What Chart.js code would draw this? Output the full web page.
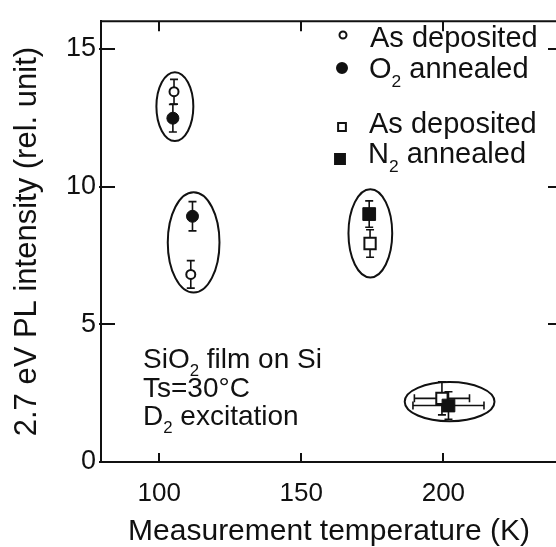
<!DOCTYPE html>
<html>
<head>
<meta charset="utf-8">
<title>2.7 eV PL intensity vs measurement temperature</title>
<script src="https://cdn.jsdelivr.net/npm/chart.js@4.4.1/dist/chart.umd.min.js"></script>
<style>
  html, body { margin: 0; padding: 0; background: #fff; overflow: hidden; }
  #wrap { position: relative; width: 570px; height: 547px; }
</style>
</head>
<body>
<div id="wrap"><canvas id="plot"></canvas></div>
<script>
// Axis ticks
const xTickValues = [100, 150, 200];
const xTickLabels = ['100', '150', '200'];
const yTickValues = [0, 5, 10, 15];
const yTickLabels = ['0', '5', '10', '15'];

// O2 series: as deposited (open circles) and O2 annealed (filled circles)
const tempO2AsDep = [105.2, 111.1];
const plO2AsDep   = [13.44, 6.81];
const errO2AsDep  = [0.45, 0.50];

const tempO2Ann = [104.8, 111.7];
const plO2Ann   = [12.48, 8.92];
const errO2Ann  = [0.50, 0.53];

// N2 series: as deposited (open squares) and N2 annealed (filled squares)
const tempN2AsDep    = [174.2, 199.5];
const plN2AsDep      = [7.93, 2.31];
const errN2AsDep     = [0.50, 0.60];
const tempErrN2AsDep = [0, 9.7];

const tempN2Ann    = [173.9, 201.8];
const plN2Ann      = [9.00, 2.05];
const errN2Ann     = [0.48, 0.50];
const tempErrN2Ann = [0, 12.5];

// Sample groups outlined by ellipses (centre and half-extent in data units)
const groupTemp     = [105.5, 112.1, 174.3, 202.2];
const groupPL       = [12.90, 7.97, 8.30, 2.19];
const groupHalfTemp = [6.5, 9.1, 7.7, 15.8];
const groupHalfPL   = [1.25, 1.82, 1.60, 0.71];

const INK = '#111';
const FONT = '"Liberation Sans", Arial, Helvetica, sans-serif';

function toPoints(xs, ys, yErr, xErr) {
  return xs.map((x, i) => ({ x, y: ys[i], yErr: yErr[i], xErr: xErr ? xErr[i] : 0 }));
}

// Text with subscript segments: parts = [[text, 'sub'|''], ...]
function drawRich(ctx, parts, x, y, size) {
  let cx = x;
  parts.forEach(([t, mode]) => {
    const s = mode === 'sub' ? size * 0.6 : size;
    ctx.font = s + 'px ' + FONT;
    ctx.fillText(t, cx, y + (mode === 'sub' ? size * 0.3 : 0));
    cx += ctx.measureText(t).width;
  });
}

const figurePlugin = {
  id: 'figure',
  beforeDatasetsDraw(chart) {
    const { ctx, scales: { x, y } } = chart;
    ctx.save();
    ctx.strokeStyle = INK;
    ctx.lineWidth = 2;
    groupTemp.forEach((t, i) => {
      const cx = x.getPixelForValue(t);
      const cy = y.getPixelForValue(groupPL[i]);
      const rx = Math.abs(x.getPixelForValue(t + groupHalfTemp[i]) - cx);
      const ry = Math.abs(y.getPixelForValue(groupPL[i] + groupHalfPL[i]) - cy);
      ctx.beginPath();
      ctx.ellipse(cx, cy, rx, ry, 0, 0, Math.PI * 2);
      ctx.stroke();
    });
    // error bars
    ctx.lineWidth = 1.6;
    const cap = 4;
    chart.data.datasets.forEach(ds => {
      ds.data.forEach(p => {
        const px = x.getPixelForValue(p.x);
        const py = y.getPixelForValue(p.y);
        if (p.yErr) {
          const y1 = y.getPixelForValue(p.y + p.yErr);
          const y2 = y.getPixelForValue(p.y - p.yErr);
          ctx.beginPath();
          ctx.moveTo(px, y1); ctx.lineTo(px, y2);
          ctx.moveTo(px - cap, y1); ctx.lineTo(px + cap, y1);
          ctx.moveTo(px - cap, y2); ctx.lineTo(px + cap, y2);
          ctx.stroke();
        }
        if (p.xErr) {
          const x1 = x.getPixelForValue(p.x - p.xErr);
          const x2 = x.getPixelForValue(p.x + p.xErr);
          ctx.beginPath();
          ctx.moveTo(x1, py); ctx.lineTo(x2, py);
          ctx.moveTo(x1, py - cap); ctx.lineTo(x1, py + cap);
          ctx.moveTo(x2, py - cap); ctx.lineTo(x2, py + cap);
          ctx.stroke();
        }
      });
    });
    ctx.restore();
  },
  afterDraw(chart) {
    const { ctx, chartArea: a, scales: { x, y } } = chart;
    ctx.save();
    ctx.strokeStyle = INK;
    ctx.fillStyle = INK;
    ctx.lineWidth = 2;
    // top and right frame
    ctx.beginPath();
    ctx.moveTo(a.left, a.top); ctx.lineTo(a.right, a.top); ctx.lineTo(a.right, a.bottom);
    ctx.stroke();
    // inward tick marks
    ctx.beginPath();
    xTickValues.forEach(v => {
      const px = Math.round(x.getPixelForValue(v));
      ctx.moveTo(px, a.bottom); ctx.lineTo(px, a.bottom - 9);
      ctx.moveTo(px, a.top); ctx.lineTo(px, a.top + 10);
    });
    yTickValues.forEach(v => {
      const py = Math.round(y.getPixelForValue(v));
      ctx.moveTo(a.left - 2, py); ctx.lineTo(a.left + 14, py);
      ctx.moveTo(a.right, py); ctx.lineTo(a.right - 9, py);
    });
    ctx.stroke();

    // legend
    const H = Chart.helpers;
    const legend = [
      { style: 'circle', radius: 3.5, fill: '#fff', mx: 343, my: 35, tx: 370, ty: 46.5, parts: [['As deposited', '']] },
      { style: 'circle', radius: 5, fill: INK, mx: 342, my: 68, tx: 369, ty: 78, parts: [['O', ''], ['2', 'sub'], [' annealed', '']] },
      { style: 'rect', radius: 5.5, fill: '#fff', mx: 342, my: 127, tx: 369, ty: 132.5, parts: [['As deposited', '']] },
      { style: 'rect', radius: 7, fill: INK, mx: 340, my: 159, tx: 368, ty: 163, parts: [['N', ''], ['2', 'sub'], [' annealed', '']] }
    ];
    ctx.textBaseline = 'alphabetic';
    ctx.textAlign = 'left';
    legend.forEach(item => {
      ctx.fillStyle = item.fill;
      ctx.strokeStyle = INK;
      ctx.lineWidth = 2;
      H.drawPoint(ctx, { pointStyle: item.style, radius: item.radius, borderWidth: 2, rotation: 0 }, item.mx, item.my);
      ctx.fillStyle = INK;
      drawRich(ctx, item.parts, item.tx, item.ty, 29);
    });

    // sample conditions
    drawRich(ctx, [['SiO', ''], ['2', 'sub'], [' film on Si', '']], 143, 368, 28);
    drawRich(ctx, [['Ts=30°C', '']], 143, 397, 28);
    drawRich(ctx, [['D', ''], ['2', 'sub'], [' excitation', '']], 143, 425, 28);
    ctx.restore();
  }
};

const openCircle = { pointStyle: 'circle', pointRadius: 4.5, pointBorderWidth: 2, pointBackgroundColor: '#fff', pointBorderColor: INK };
const filledCircle = { pointStyle: 'circle', pointRadius: 6, pointBorderWidth: 1, pointBackgroundColor: INK, pointBorderColor: INK };
const openSquare = { pointStyle: 'rect', pointRadius: 8, pointBorderWidth: 2, pointBackgroundColor: '#fff', pointBorderColor: INK };
const filledSquare = { pointStyle: 'rect', pointRadius: 9, pointBorderWidth: 1, pointBackgroundColor: INK, pointBorderColor: INK };

new Chart(document.getElementById('plot'), {
  type: 'scatter',
  data: {
    datasets: [
      Object.assign({ label: 'As deposited', order: 1, data: toPoints(tempO2AsDep, plO2AsDep, errO2AsDep) }, openCircle),
      Object.assign({ label: 'O2 annealed', order: 0, data: toPoints(tempO2Ann, plO2Ann, errO2Ann) }, filledCircle),
      Object.assign({ label: 'As deposited', order: 1, data: toPoints(tempN2AsDep, plN2AsDep, errN2AsDep, tempErrN2AsDep) }, openSquare),
      Object.assign({ label: 'N2 annealed', order: 0, data: toPoints(tempN2Ann, plN2Ann, errN2Ann, tempErrN2Ann) }, filledSquare)
    ]
  },
  options: {
    responsive: true,
    maintainAspectRatio: false,
    animation: false,
    events: [],
    layout: { padding: { top: 13, right: 13, bottom: 0, left: 0 } },
    plugins: { legend: { display: false }, tooltip: { enabled: false } },
    scales: {
      x: {
        type: 'linear',
        min: 79.5,
        max: 240,
        afterBuildTicks: s => { s.ticks = xTickValues.map(v => ({ value: v })); },
        afterFit: s => { s.height = 85; },
        grid: { display: false, drawTicks: false },
        border: { display: true, color: INK, width: 2 },
        ticks: {
          autoSkip: false, maxRotation: 0, padding: 16, color: INK,
          font: { family: FONT, size: 26 },
          callback: (v, i) => xTickLabels[i]
        },
        title: {
          display: true, text: 'Measurement temperature (K)', color: INK,
          font: { family: FONT, size: 30, lineHeight: 1 }, padding: 0
        }
      },
      y: {
        type: 'linear',
        min: 0,
        max: 16,
        afterBuildTicks: s => { s.ticks = yTickValues.map(v => ({ value: v })); },
        afterFit: s => { s.width = 101; },
        grid: { display: false, drawTicks: false },
        border: { display: true, color: INK, width: 2 },
        ticks: {
          autoSkip: false, padding: 5, color: INK,
          font: { family: FONT, size: 27 },
          callback: (v, i) => yTickLabels[i]
        },
        title: {
          display: true, text: '2.7 eV PL intensity (rel. unit)', color: INK,
          font: { family: FONT, size: 31, lineHeight: 1 }, padding: { top: 12, bottom: 0 }
        }
      }
    }
  },
  plugins: [figurePlugin]
});
</script>
</body>
</html>
